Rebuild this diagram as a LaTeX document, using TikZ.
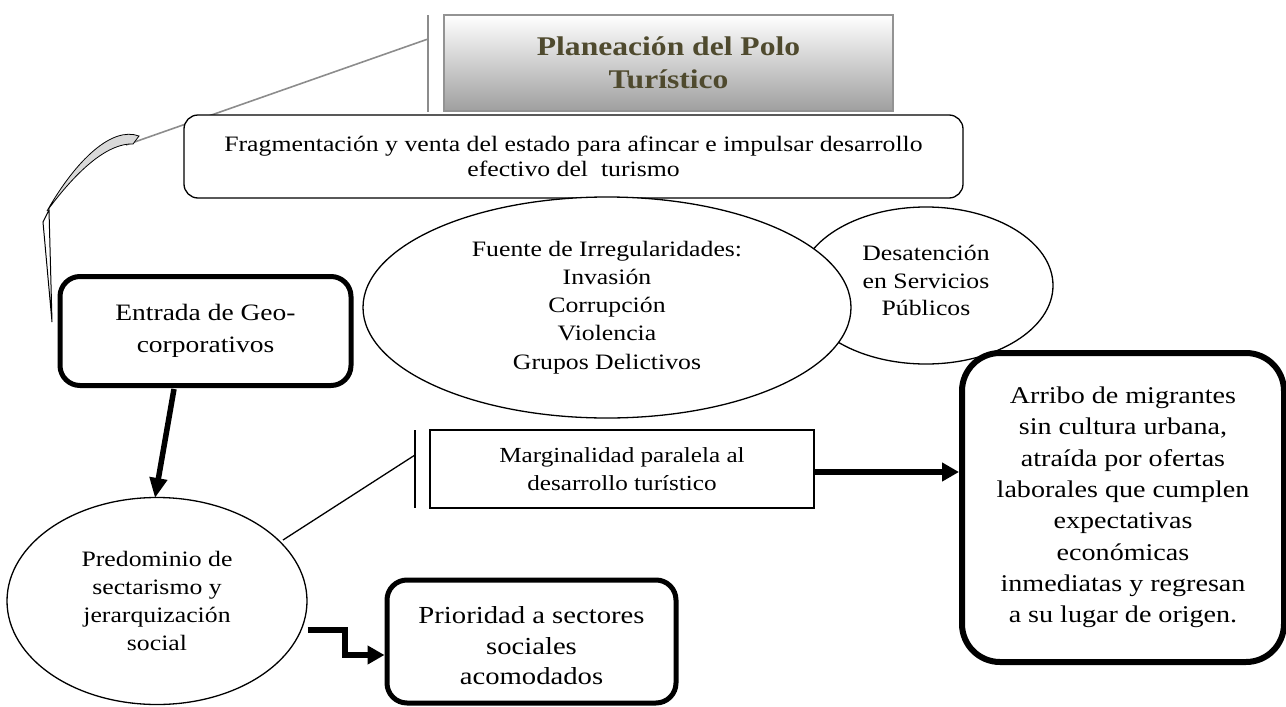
\documentclass[tikz,border=0pt]{standalone}
\usepackage{fontspec}
\setmainfont{Liberation Serif}[FakeStretch=1.17]
\usetikzlibrary{shapes.geometric,arrows.meta}
\definecolor{titlecol}{HTML}{4F4A2E}
\tikzset{
  thinbox/.style={draw=black, line width=1.3pt, fill=white, rounded corners=14pt, inner sep=0pt},
  thickbox/.style={draw=black, line width=5pt, fill=white, inner sep=0pt},
  oval/.style={draw=black, line width=1.3pt, fill=white, ellipse, inner sep=0pt, align=center},
  txt/.style={align=center, inner sep=0pt},
  bigarrow/.style={line width=6pt, -{Triangle[length=17pt, width=18pt]}},
  greyline/.style={draw=gray!90, line width=1.6pt}
}
\begin{document}
\begin{tikzpicture}[x=1pt,y=-1pt]
\useasboundingbox (0,0) rectangle (1286,707);
% title
\node[draw=gray!85, line width=2pt, top color=white, bottom color=gray!75, minimum width=449pt, minimum height=96pt, inner sep=0pt, align=center, text=titlecol, font=\fontsize{27}{33}\selectfont\bfseries] (title) at (668.5,63) {Planeación del Polo\\Turístico};
\coordinate (vtop) at (428,15);
\coordinate (vbot) at (428,112);
\coordinate (vmid) at (428,39);
\draw[greyline] (vtop) -- (vbot);
% curly remnant
\coordinate (tip) at (126,145);
\draw[greyline] (vmid) -- (tip);
\draw[line width=0.8pt, fill=gray!30] (139,136) .. controls (112,126) and (76,160) .. (47,211) .. controls (80,166) and (110,143) .. (133,144) -- cycle;
\coordinate (w1) at (49,210);
\coordinate (w2) at (43,222);
\coordinate (w3) at (52,322);
\draw[line width=1pt, line join=miter] (w1) -- (w2) -- (w3) -- cycle;
% fragmentacion
\node[thinbox, minimum width=779pt, minimum height=83pt, align=center, font=\fontsize{22}{25}\selectfont] (frag) at (573.5,156.5) {Fragmentación y venta del estado para afincar e impulsar desarrollo\\efectivo del\ \ turismo};
% ellipses
\node[oval, minimum width=254pt, minimum height=157pt, font=\fontsize{22}{27.5}\selectfont] (desat) at (926,285.5) {};
\node[txt, font=\fontsize{22}{27.5}\selectfont] (desattxt) at (926,280.5) {Desatención\\en Servicios\\Públicos};
\node[oval, minimum width=488pt, minimum height=221pt, font=\fontsize{22}{28.2}\selectfont] (fuente) at (607,307.5) {Fuente de Irregularidades:\\Invasión\\Corrupción\\Violencia\\Grupos Delictivos};
% entrada
\node[thickbox, rounded corners=20pt, minimum width=291pt, minimum height=109pt, align=center, font=\fontsize{23.5}{32}\selectfont] (entrada) at (205.5,331) {Entrada de Geo-\\corporativos};
% predominio
\node[oval, minimum width=300pt, minimum height=207pt] (pred) at (157,601) {};
\node[txt, font=\fontsize{22}{28}\selectfont] (predtxt) at (157,601) {Predominio de\\sectarismo y\\jerarquización\\social};
% marginalidad
\coordinate (mtop) at (415,430);
\coordinate (mbot) at (415,508);
\coordinate (mjoin) at (415,455);
\draw[line width=1.3pt] (mtop) -- (mbot);
\node[draw=black, line width=1.3pt, fill=white, minimum width=384pt, minimum height=78pt, inner sep=0pt, align=center, font=\fontsize{21.5}{28}\selectfont] (marg) at (622,469) {Marginalidad paralela al\\desarrollo turístico};
\coordinate (pj) at (283,540);
\draw[line width=1.3pt] (pj) -- (mjoin);
% arribo
\node[thickbox, line width=6pt, rounded corners=38pt, minimum width=322pt, minimum height=309pt, align=center, font=\fontsize{24}{31.3}\selectfont] (arribo) at (1123,507.5) {Arribo de migrantes\\sin cultura urbana,\\atraída por ofertas\\laborales que cumplen\\expectativas\\económicas\\inmediatas y regresan\\a su lugar de origen.};
% prioridad
\node[thickbox, rounded corners=20pt, minimum width=289pt, minimum height=123pt] (prior) at (531.5,641.5) {};
\node[txt, font=\fontsize{24.5}{30.5}\selectfont] (priortxt) at (531.5,646) {Prioridad a sectores\\sociales\\acomodados};
% arrows
\coordinate (a1) at (174,389);
\coordinate (a2) at (155,498);
\draw[bigarrow, line width=5.5pt, -{Triangle[length=20pt, width=17pt]}] (a1) -- (a2);
\draw[bigarrow, line width=6.5pt] (marg.east |- 0,472) -- (arribo.west |- 0,472);
\coordinate (e1) at (345,630);
\coordinate (e2) at (345,655);
\draw[bigarrow] (pred.east |- e1) -- (e1) -- (e2) -- (prior.west |- e2);
\end{tikzpicture}
\end{document}
